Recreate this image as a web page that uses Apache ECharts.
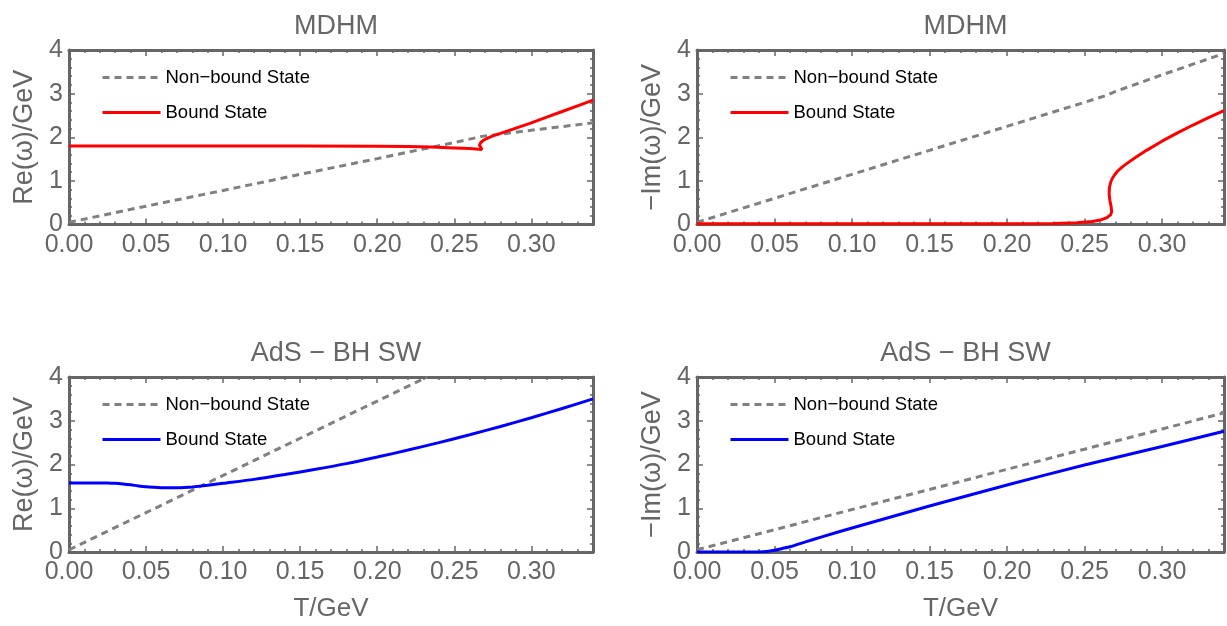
<!DOCTYPE html>
<html>
<head>
<meta charset="utf-8">
<script src="https://cdn.jsdelivr.net/npm/echarts@6/dist/echarts.min.js"></script>
<style>
  html, body { margin: 0; padding: 0; background: #fff; }
  #chart { width: 1227px; height: 626px; }
</style>
</head>
<body>
<div id="chart"></div>
<script>
// ---- data: [T (GeV), value (GeV)] ----
const panelTitles = ['MDHM', 'MDHM', 'AdS − BH SW', 'AdS − BH SW'];
const yNames = ['Re(ω)/GeV', '−Im(ω)/GeV', 'Re(ω)/GeV', '−Im(ω)/GeV'];
const xName = 'T/GeV';
const legendNames = ['Non−bound State', 'Bound State'];
const xTicks = [0, 0.05, 0.10, 0.15, 0.20, 0.25, 0.30];
const yTicks = [0, 1, 2, 3, 4];

// MDHM, real part
const mdhmReNonBound = [
  [0, 0.05], [0.05, 0.42], [0.10, 0.78], [0.15, 1.15], [0.20, 1.51],
  [0.25, 1.88], [0.268, 2.02], [0.30, 2.16], [0.34, 2.33]
];
const mdhmReBound = [
  [0, 1.80], [0.05, 1.80], [0.10, 1.80], [0.15, 1.80], [0.20, 1.795],
  [0.22, 1.79], [0.235, 1.775], [0.25, 1.755], [0.26, 1.74], [0.268, 1.72],
  [0.2668, 1.76], [0.2663, 1.82], [0.2672, 1.88], [0.2690, 1.93], [0.271, 1.97],
  [0.275, 2.03], [0.28, 2.09], [0.29, 2.21], [0.30, 2.33], [0.31, 2.46],
  [0.32, 2.59], [0.33, 2.72], [0.34, 2.85]
];

// MDHM, imaginary part
const mdhmImNonBound = [
  [0, 0.05], [0.05, 0.60], [0.10, 1.15], [0.15, 1.70], [0.20, 2.25],
  [0.25, 2.80], [0.265, 2.97], [0.27, 3.05], [0.30, 3.43], [0.34, 3.92]
];
const mdhmImBound = [
  [0, 0.02], [0.10, 0.02], [0.20, 0.02], [0.23, 0.025], [0.245, 0.04],
  [0.255, 0.07], [0.261, 0.11], [0.2645, 0.16], [0.2668, 0.22], [0.2675, 0.29],
  [0.2672, 0.40], [0.2664, 0.55], [0.2659, 0.70], [0.2661, 0.85], [0.2670, 0.98],
  [0.2680, 1.06], [0.2695, 1.14], [0.2715, 1.23], [0.274, 1.31], [0.277, 1.39],
  [0.2826, 1.53], [0.29, 1.70], [0.30, 1.91], [0.31, 2.10], [0.32, 2.28],
  [0.33, 2.45], [0.34, 2.61]
];

// AdS-BH soft wall, real part
const swReNonBound = [
  [0, 0.05], [0.05, 0.90], [0.10, 1.75], [0.15, 2.60], [0.20, 3.45], [0.2324, 4.0]
];
const swReBound = [
  [0, 1.58], [0.02, 1.58], [0.025, 1.578], [0.03, 1.57], [0.035, 1.555],
  [0.04, 1.535], [0.045, 1.51], [0.05, 1.49], [0.055, 1.478], [0.06, 1.47],
  [0.065, 1.467], [0.07, 1.468], [0.075, 1.475], [0.08, 1.488], [0.09, 1.525],
  [0.10, 1.57], [0.12, 1.66], [0.14, 1.77], [0.16, 1.89], [0.18, 2.02],
  [0.20, 2.17], [0.22, 2.33], [0.24, 2.50], [0.26, 2.68], [0.28, 2.87],
  [0.30, 3.07], [0.32, 3.28], [0.34, 3.50]
];

// AdS-BH soft wall, imaginary part
const swImNonBound = [
  [0, 0.05], [0.05, 0.51], [0.10, 0.97], [0.15, 1.43], [0.20, 1.89],
  [0.25, 2.35], [0.30, 2.81], [0.34, 3.18]
];
const swImBound = [
  [0, 0], [0.04, 0], [0.045, 0.01], [0.05, 0.04], [0.055, 0.08], [0.06, 0.12],
  [0.07, 0.23], [0.08, 0.34], [0.10, 0.55], [0.15, 1.05], [0.20, 1.53],
  [0.25, 1.99], [0.30, 2.41], [0.34, 2.76]
];

const panelData = [
  [mdhmReNonBound, mdhmReBound],
  [mdhmImNonBound, mdhmImBound],
  [swReNonBound, swReBound],
  [swImNonBound, swImBound]
];
const boundColors = ['#ff0000', '#ff0000', '#0000ff', '#0000ff'];
// the soft-wall curves are single-valued, so they may be drawn smoothed
const boundSmooth = [false, false, 0.25, 0.2];

// ---- layout ----
const FONT = '"Liberation Sans", Arial, sans-serif';
const FRAME = '#666666';
const TEXT = '#666666';
const grids = [
  { left: 69, top: 50, width: 524, height: 174.5 },
  { left: 697, top: 50, width: 527, height: 174.5 },
  { left: 69, top: 377, width: 524, height: 175 },
  { left: 697, top: 377, width: 527, height: 175 }
];

const xMin = xTicks[0], xMax = 0.34, xStep = xTicks[1] - xTicks[0];
const yMin = yTicks[0], yMax = yTicks[yTicks.length - 1], yStep = yTicks[1] - yTicks[0];

const tickStyle = { show: true, inside: true, length: 6, lineStyle: { color: FRAME, width: 1.5 } };
const minorStyle = { show: true, splitNumber: 5, length: 3, lineStyle: { color: FRAME, width: 1.5 } };
const frameLine = { show: true, onZero: false, lineStyle: { color: FRAME, width: 3 } };

const option = {
  animation: false,
  backgroundColor: '#ffffff',
  textStyle: { fontFamily: FONT },
  title: [], grid: [], xAxis: [], yAxis: [], legend: [], series: []
};

grids.forEach((g, i) => {
  option.grid.push(Object.assign({ containLabel: false }, g));
  option.title.push({
    text: panelTitles[i],
    left: g.left + g.width / 2,
    textAlign: 'center',
    top: g.top - 42,
    textStyle: { color: TEXT, fontSize: 27, fontWeight: 'normal', fontFamily: FONT }
  });
  const bottomRow = i >= 2;
  // bottom axis with labels
  option.xAxis.push({
    type: 'value', gridIndex: i, position: 'bottom',
    min: xMin, max: xMax, interval: xStep,
    name: bottomRow ? xName : '', nameLocation: 'middle', nameGap: 44,
    nameTextStyle: { color: TEXT, fontSize: 26, fontFamily: FONT },
    axisLine: frameLine, axisTick: tickStyle, minorTick: minorStyle,
    splitLine: { show: false },
    axisLabel: {
      color: TEXT, fontSize: 25, fontFamily: FONT, margin: 8, showMaxLabel: false,
      formatter: v => v.toFixed(2)
    }
  });
  // top frame edge
  option.xAxis.push({
    type: 'value', gridIndex: i, position: 'top',
    min: xMin, max: xMax, interval: xStep,
    axisLine: frameLine, axisTick: tickStyle, minorTick: minorStyle,
    splitLine: { show: false }, axisLabel: { show: false }
  });
  // left axis with labels
  option.yAxis.push({
    type: 'value', gridIndex: i, position: 'left',
    min: yMin, max: yMax, interval: yStep,
    name: yNames[i], nameLocation: 'middle', nameGap: 31, nameRotate: 90,
    nameTextStyle: { color: TEXT, fontSize: 27, fontFamily: FONT },
    axisLine: frameLine, axisTick: tickStyle, minorTick: minorStyle,
    splitLine: { show: false },
    axisLabel: { color: TEXT, fontSize: 25, fontFamily: FONT, margin: 6 }
  });
  // right frame edge
  option.yAxis.push({
    type: 'value', gridIndex: i, position: 'right',
    min: yMin, max: yMax, interval: yStep,
    axisLine: frameLine, axisTick: tickStyle, minorTick: minorStyle,
    splitLine: { show: false }, axisLabel: { show: false }
  });

  const [nonBound, bound] = panelData[i];
  option.series.push({
    type: 'line', name: legendNames[0],
    xAxisIndex: 2 * i, yAxisIndex: 2 * i,
    data: nonBound, symbol: 'none', clip: true,
    color: '#808080',
    lineStyle: { color: '#808080', width: 3, type: [7, 5] },
    z: 3
  });
  option.series.push({
    type: 'line', name: legendNames[1],
    xAxisIndex: 2 * i, yAxisIndex: 2 * i,
    data: bound, symbol: 'none', clip: true,
    smooth: boundSmooth[i],
    color: boundColors[i],
    lineStyle: { color: boundColors[i], width: 3 },
    z: 4
  });

  option.legend.push({
    orient: 'vertical',
    left: g.left + 27,
    top: g.top + 13,
    itemWidth: 58, itemHeight: 18, itemGap: 16,
    selectedMode: false,
    textStyle: { color: '#000000', fontSize: 18.5, fontFamily: FONT, padding: [0, 0, 0, 0] },
    data: [
      { name: legendNames[0], itemStyle: { opacity: 0 },
        lineStyle: { color: '#808080', width: 3, type: [7, 5] } },
      { name: legendNames[1], itemStyle: { opacity: 0 },
        lineStyle: { color: boundColors[i], width: 3, type: 'solid' } }
    ]
  });
});

const chart = echarts.init(document.getElementById('chart'), null, { renderer: 'canvas' });
chart.setOption(option);
</script>
</body>
</html>
